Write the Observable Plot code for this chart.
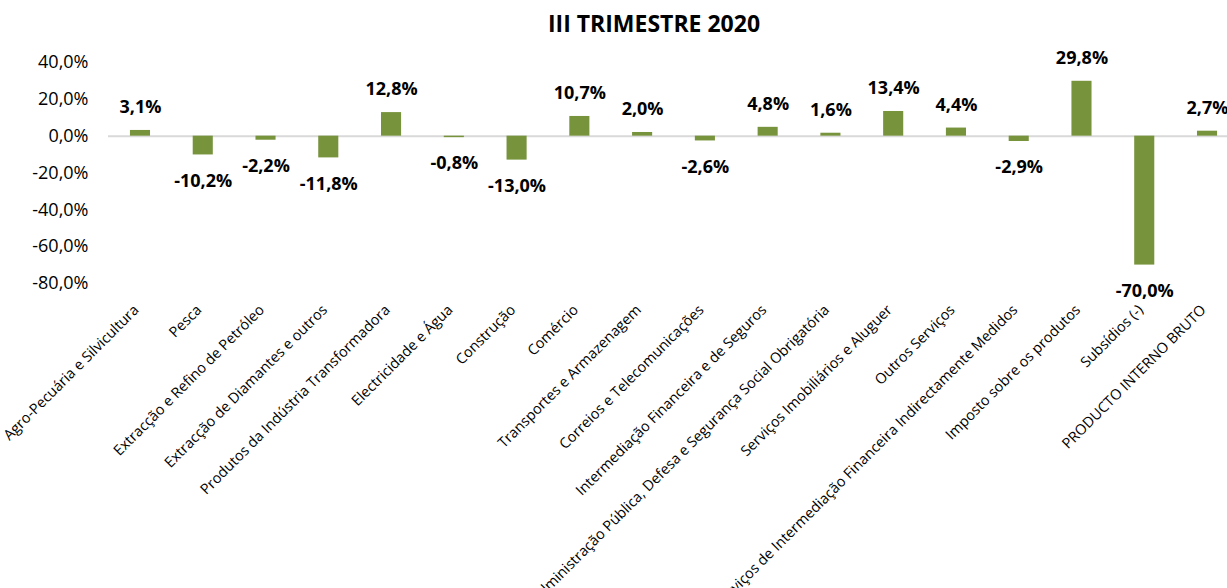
<!DOCTYPE html>
<html>
<head>
<meta charset="utf-8">
<script src="https://cdn.jsdelivr.net/npm/d3@7"></script>
<script src="https://cdn.jsdelivr.net/npm/@observablehq/plot@0.6"></script>
<style>
  html, body { margin: 0; padding: 0; background: #fff; }
  #title {
    width: 1227px; height: 40px; box-sizing: border-box;
    padding-left: 81px; text-align: center;
    font-family: "Open Sans", sans-serif; font-weight: bold; font-size: 23px;
    line-height: 46px; color: #000;
  }
</style>
</head>
<body>
<div id="title">III TRIMESTRE 2020</div>
<div id="chart"></div>
<script>
const categories = [
  "Agro-Pecuária e Silvicultura",
  "Pesca",
  "Extracção e Refino de Petróleo",
  "Extracção de Diamantes e outros",
  "Produtos da Indústria Transformadora",
  "Electricidade e Água",
  "Construção",
  "Comércio",
  "Transportes e Armazenagem",
  "Correios e Telecomunicações",
  "Intermediação Financeira e de Seguros",
  "Administração Pública, Defesa e Segurança Social Obrigatória",
  "Serviços Imobiliários e Aluguer",
  "Outros Serviços",
  "Serviços de Intermediação Financeira Indirectamente Medidos",
  "Imposto sobre os produtos",
  "Subsídios (-)",
  "PRODUCTO INTERNO BRUTO"
];
const values = [3.1, -10.2, -2.2, -11.8, 12.8, -0.8, -13.0, 10.7, 2.0, -2.6, 4.8, 1.6, 13.4, 4.4, -2.9, 29.8, -70.0, 2.7];
const yTicks = [40, 20, 0, -20, -40, -60, -80];

const fmt = v => v.toFixed(1).replace(".", ",") + "%";
const data = categories.map((c, i) => ({category: c, value: values[i]}));

const chart = Plot.plot({
  width: 1227,
  height: 548,
  marginTop: 22,
  marginBottom: 305,
  marginLeft: 108,
  marginRight: 0,
  style: {fontFamily: "'Open Sans', sans-serif", color: "#000", background: "#fff", overflow: "visible"},
  x: {domain: categories, range: [108.6, 1238.4], paddingInner: 0.68, paddingOuter: 0.34, round: false, label: null},
  y: {domain: [-80, 40], label: null},
  marks: [
    Plot.axisY({ticks: yTicks, tickFormat: fmt, tickSize: 0, tickPadding: 20, fontSize: 18, label: null}),
    Plot.axisX({tickRotate: -45, tickSize: 0, tickPadding: 22, dx: -4, dy: 2, fontSize: 14.5, label: null}),
    Plot.ruleY([0], {stroke: "#d9d9d9", strokeWidth: 2}),
    Plot.barY(data, {x: "category", y: "value", fill: "#77933C"}),
    Plot.text(data.filter(d => d.value >= 0), {
      x: "category", y: d => Math.min(d.value, 36.3), text: d => fmt(d.value),
      dy: -23, fontWeight: "bold", fontSize: 18
    }),
    Plot.text(data.filter(d => d.value < 0), {
      x: "category", y: "value", text: d => fmt(d.value),
      dy: 26, fontWeight: "bold", fontSize: 18
    })
  ]
});
document.getElementById("chart").appendChild(chart);
</script>
</body>
</html>
